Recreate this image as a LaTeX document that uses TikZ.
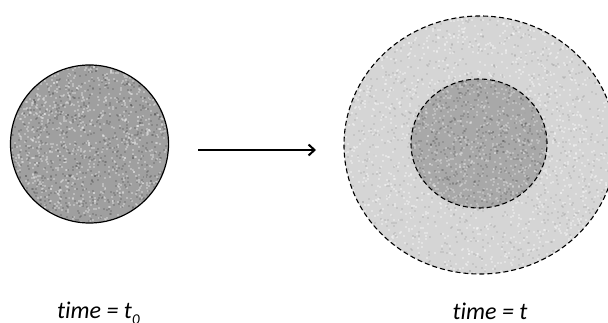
\documentclass[tikz,border=0pt]{standalone}
\usepackage{fontspec}
\setmainfont{Carlito}[Ligatures=NoCommon]
\usetikzlibrary{shapes.geometric,arrows.meta}
\begin{document}
\begin{tikzpicture}[x=1pt,y=-1pt,
  edge/.style={line width=1.2pt},
  dashedge/.style={line width=1.1pt,dash pattern=on 5pt off 3pt},
  lbl/.style={inner sep=0pt,font=\fontsize{24}{28}\selectfont\itshape},
  flow/.style={line width=2pt,-{Straight Barb[length=6pt,width=11pt,line width=2pt]}}]
\useasboundingbox (0,0) rectangle (608,323);
\pgfmathsetseed{12345}
% left circle
\fill[gray!75] (89.5,144) ellipse [x radius=79, y radius=79];
\begin{scope}
  \clip (89.5,144) ellipse [x radius=79, y radius=79];
  \foreach \i in {1,...,1100}{\fill[white,opacity=0.3] (89.5+80*rand,144+80*rand) rectangle ++(2,2);}
  \foreach \i in {1,...,900}{\fill[black,opacity=0.14] (89.5+80*rand,144+80*rand) rectangle ++(2,2);}
\end{scope}
\node[ellipse,draw,edge,inner sep=0pt,minimum width=158pt,minimum height=158pt] (a) at (89.5,144) {};
% outer ring
\fill[gray!33] (480,145) ellipse [x radius=136, y radius=129];
\begin{scope}
  \clip (480,145) ellipse [x radius=136, y radius=129];
  \foreach \i in {1,...,1800}{\fill[white,opacity=0.35] (480+137*rand,145+130*rand) rectangle ++(2,2);}
  \foreach \i in {1,...,1200}{\fill[black,opacity=0.07] (480+137*rand,145+130*rand) rectangle ++(2,2);}
\end{scope}
% inner circle
\fill[gray!68] (479,143.5) ellipse [x radius=68, y radius=64.5];
\begin{scope}
  \clip (479,143.5) ellipse [x radius=68, y radius=64.5];
  \foreach \i in {1,...,700}{\fill[white,opacity=0.25] (479+69*rand,143.5+66*rand) rectangle ++(2,2);}
  \foreach \i in {1,...,600}{\fill[black,opacity=0.12] (479+69*rand,143.5+66*rand) rectangle ++(2,2);}
\end{scope}
\node[ellipse,draw,dashedge,inner sep=0pt,minimum width=272pt,minimum height=258pt] (b) at (480,145) {};
\node[ellipse,draw,dashedge,inner sep=0pt,minimum width=136pt,minimum height=129pt] (c) at (479,143.5) {};
% arrow
\coordinate (s) at (198,150);
\coordinate (e) at (316,150);
\draw[flow] (s) -- (e);
% labels
\node[lbl,anchor=base west] (l1) at (57,318) {time = t\raisebox{-0.28em}{\fontsize{15}{15}\selectfont 0}};
\node[lbl,anchor=base] (l2) at (490,319) {time = t};
\end{tikzpicture}
\end{document}
